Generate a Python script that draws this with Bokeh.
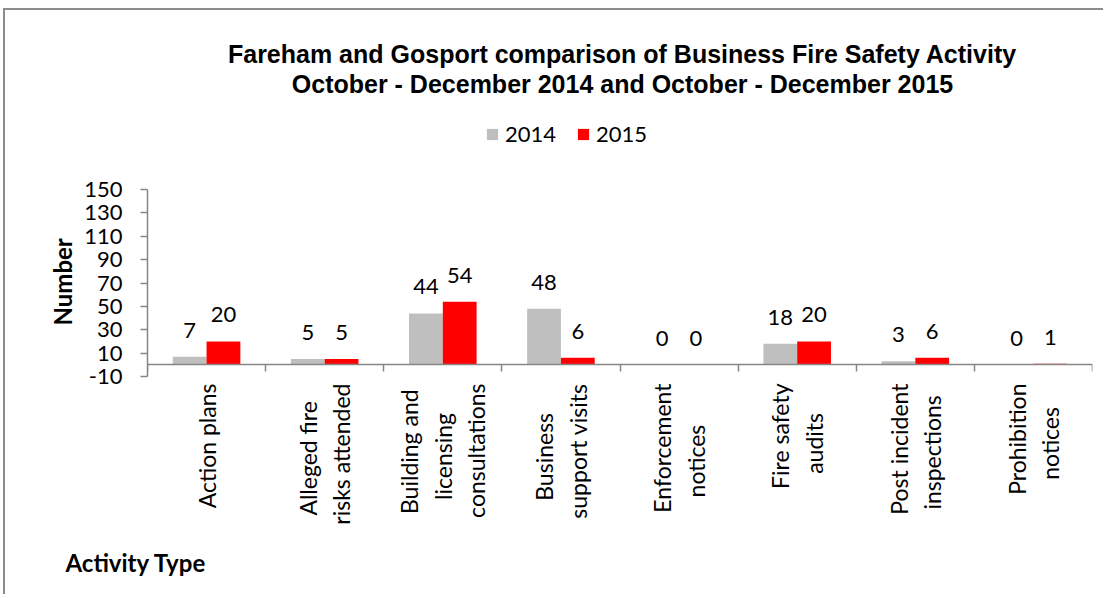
import math
from bokeh.plotting import figure
from bokeh.models import (ColumnDataSource, Range1d, FixedTicker, LinearAxis, Label,
                          LabelSet, Legend, LegendItem, Title)
from bokeh.core.properties import value
from bokeh.transform import dodge
from bokeh.embed import file_html
from bokeh.resources import INLINE

# ---- data ----
categories = ["Action plans", "Alleged fire risks attended",
              "Building and licensing consultations", "Business support visits",
              "Enforcement notices", "Fire safety audits",
              "Post incident inspections", "Prohibition notices"]
tick_labels = ["Action plans", "Alleged fire\nrisks attended",
               "Building and\nlicensing\nconsultations", "Business\nsupport visits",
               "Enforcement\nnotices", "Fire safety\naudits",
               "Post incident\ninspections", "Prohibition\nnotices"]
values_2014 = [7, 5, 44, 48, 0, 18, 3, 0]
values_2015 = [20, 5, 54, 6, 0, 20, 6, 1]
series_names = ["2014", "2015"]
y_ticks = [-10, 10, 30, 50, 70, 90, 110, 130, 150]
title_lines = ["Fareham and Gosport comparison of Business Fire Safety Activity",
               "October - December 2014 and October - December 2015"]

GRAY = "#BFBFBF"
RED = "#FF0000"
AXIS = "#868686"
FONT = "Lato"
TFONT = "Liberation Sans"

# approximate Lato advance widths (em) used to centre the wrapped lines
LATO_W = {" ": .193, "A": .68, "B": .64, "E": .58, "F": .55, "P": .61,
          "a": .49, "b": .56, "c": .46, "d": .56, "e": .52, "f": .32, "g": .51,
          "h": .56, "i": .24, "k": .50, "l": .24, "m": .84, "n": .56, "o": .56,
          "p": .56, "r": .36, "s": .42, "t": .34, "u": .56, "v": .50, "y": .50}


def centred(label):
    lines = label.split("\n")
    widths = [sum(LATO_W.get(ch, .5) for ch in ln) for ln in lines]
    m = max(widths)
    return "\n".join(ln + "\u00a0" * int(round((m - w) / 2 / LATO_W[" "]))
                     for ln, w in zip(lines, widths))


n = len(categories)
centers = [i + 0.5 for i in range(n)]
src = ColumnDataSource(dict(x=centers, v14=values_2014, v15=values_2015,
                            t14=[str(v) for v in values_2014],
                            t15=[str(v) for v in values_2015]))

# layout (pixels)
W, H = 1100, 586
FRAME_H = 366
px_per_unit = 187 / 160
y_end = y_ticks[0] + FRAME_H / px_per_unit

p = figure(width=W, height=H, output_backend="svg", toolbar_location=None,
           x_range=Range1d(0, n), y_range=Range1d(y_ticks[0], y_end),
           x_axis_type=None, y_axis_type=None,
           min_border_left=142, min_border_right=13, min_border_top=0,
           min_border_bottom=H - FRAME_H)
p.title.text = ""
p.outline_line_color = None
p.xgrid.visible = False
p.ygrid.visible = False
p.styles = {"margin-top": "8px", "margin-left": "3px",
            "border-top": "2px solid #8c8c8c", "border-left": "2px solid #8c8c8c"}

bw = 0.286
r14 = p.vbar(x=dodge("x", -bw / 2, range=p.x_range), top="v14", bottom=0, width=bw,
             source=src, fill_color=GRAY, line_color=None)
r15 = p.vbar(x=dodge("x", bw / 2, range=p.x_range), top="v15", bottom=0, width=bw,
             source=src, fill_color=RED, line_color=None)

for col, ytop, off in (("t14", "v14", -bw / 2), ("t15", "v15", bw / 2)):
    ls = LabelSet(x=dodge("x", off, range=p.x_range), y=ytop, text=col, source=src,
                  y_offset=19, text_align="center", text_baseline="alphabetic",
                  text_font=value(FONT), text_font_size="22px", text_color="black")
    p.add_layout(ls)

# y axis
yax = LinearAxis(ticker=FixedTicker(ticks=y_ticks), bounds=(y_ticks[0], y_ticks[-1]),
                 axis_line_color=AXIS, axis_line_width=1.5,
                 major_tick_line_color=AXIS, major_tick_line_width=1.5,
                 major_tick_in=0, major_tick_out=7,
                 minor_tick_line_color=None, major_label_standoff=18,
                 major_label_overrides={t: str(t) for t in y_ticks},
                 major_label_text_font=FONT, major_label_text_font_size="22px",
                 major_label_text_color="black")
p.add_layout(yax, "left")
p.add_layout(Title(text="Number", align="left", offset=51, standoff=10,
                   text_font=FONT, text_font_style="bold", text_font_size="24px",
                   text_color="black"), "left")

# category labels (below the frame)
xb = LinearAxis(ticker=FixedTicker(ticks=centers),
                axis_line_color=None, major_tick_line_color=None,
                major_tick_in=0, major_tick_out=0, minor_tick_line_color=None,
                major_label_overrides={c: centred(t) for c, t in zip(centers, tick_labels)},
                major_label_orientation=math.pi / 2, major_label_standoff=7,
                major_label_text_font=FONT, major_label_text_font_size="23px",
                major_label_text_color="black")
p.add_layout(xb, "below")

# x axis line at y = 0 with ticks at category boundaries
xa = LinearAxis(ticker=FixedTicker(ticks=list(range(n + 1))), fixed_location=0,
                axis_line_color=AXIS, axis_line_width=1.5,
                major_tick_line_color=AXIS, major_tick_line_width=1.5,
                major_tick_in=0, major_tick_out=7, minor_tick_line_color=None,
                major_label_overrides={i: "" for i in range(n + 1)},
                major_label_text_font_size="1px")
p.add_layout(xa, "below")

p.add_layout(Title(text="Activity Type", align="left", offset=-82, standoff=36,
                   text_font=FONT, text_font_style="bold", text_font_size="24px",
                   text_color="black"), "below")

# title
for txt, yy in zip(title_lines, (323, 293)):
    p.add_layout(Label(x=475, y=yy, x_units="screen", y_units="screen", text=txt,
                       text_align="center", text_baseline="alphabetic", text_font=TFONT,
                       text_font_style="bold", text_font_size="25px", text_color="black"))

legend = Legend(items=[LegendItem(label=series_names[0], renderers=[r14]),
                       LegendItem(label=series_names[1], renderers=[r15])],
                orientation="horizontal", location=(338, 229),
                glyph_width=14, glyph_height=14, label_standoff=6, spacing=20,
                label_text_font=FONT, label_text_font_size="22px",
                label_text_color="black", border_line_color=None,
                background_fill_alpha=0, padding=0, margin=0)
p.add_layout(legend)

open("out.html", "w").write(file_html(p, INLINE))
